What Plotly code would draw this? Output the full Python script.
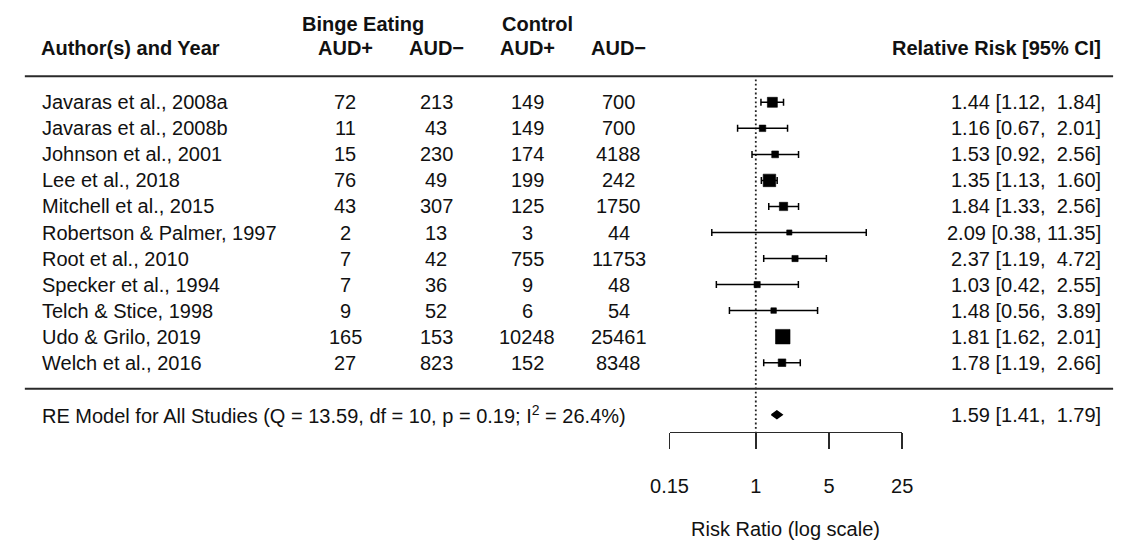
import math
import plotly.graph_objects as go

# ---------------- data ----------------
authors = [
    "Javaras et al., 2008a", "Javaras et al., 2008b", "Johnson et al., 2001",
    "Lee et al., 2018", "Mitchell et al., 2015", "Robertson & Palmer, 1997",
    "Root et al., 2010", "Specker et al., 1994", "Telch & Stice, 1998",
    "Udo & Grilo, 2019", "Welch et al., 2016",
]
be_pos = [72, 11, 15, 76, 43, 2, 7, 7, 9, 165, 27]
be_neg = [213, 43, 230, 49, 307, 13, 42, 36, 52, 153, 823]
ctl_pos = [149, 149, 174, 199, 125, 3, 755, 9, 6, 10248, 152]
ctl_neg = [700, 700, 4188, 242, 1750, 44, 11753, 48, 54, 25461, 8348]
rr = [1.44, 1.16, 1.53, 1.35, 1.84, 2.09, 2.37, 1.03, 1.48, 1.81, 1.78]
rr_lo = [1.12, 0.67, 0.92, 1.13, 1.33, 0.38, 1.19, 0.42, 0.56, 1.62, 1.19]
rr_hi = [1.84, 2.01, 2.56, 1.60, 2.56, 11.35, 4.72, 2.55, 3.89, 2.01, 2.66]
summary_rr, summary_lo, summary_hi = 1.59, 1.41, 1.79
summary_label = "RE Model for All Studies (Q = 13.59, df = 10, p = 0.19; I<sup>2</sup> = 26.4%)"
tick_vals = [0.15, 1, 5, 25]
tick_text = ["0.15", "1", "5", "25"]

# ---------------- style ----------------
square_px = [10, 6.5, 6.8, 12.5, 8.3, 5.2, 6.2, 6.2, 5.5, 14.5, 7.6]
W, H = 1128, 545
ROW0_PX, ROW_PX = 102.3, 26.04
FONT = "Liberation Sans, Arial, Helvetica, sans-serif"
INK = "#111111"
LINE = "#2a2a2a"

y_top = 1 - ROW0_PX / ROW_PX
y_bot = 1 + (H - ROW0_PX) / ROW_PX
n = len(authors)
rows = list(range(1, n + 1))
sum_row = n + 2
axis_row = sum_row + 0.65
hdr_row1 = -2.02
hdr_row2 = -1.1
title_row = 1 + (529 - ROW0_PX) / ROW_PX


def fx(px):
    return px / W


fig = go.Figure()

# dotted line of no effect
fig.add_trace(go.Scatter(
    x=[1, 1], y=[0.12, axis_row], mode="lines",
    line=dict(color="#222222", width=1.8, dash="1.8px,2.6px"),
    hoverinfo="skip", showlegend=False,
))

# study estimates with CIs
fig.add_trace(go.Scatter(
    x=rr, y=rows, mode="markers",
    marker=dict(symbol="square", size=square_px, color="black", opacity=1,
                line=dict(width=0.6, color="black")),
    error_x=dict(type="data", symmetric=False,
                 array=[h - e for h, e in zip(rr_hi, rr)],
                 arrayminus=[e - l for e, l in zip(rr, rr_lo)],
                 color="#000000", thickness=1.5, width=3.5),
    showlegend=False,
))

# summary diamond
dh = 0.15
fig.add_trace(go.Scatter(
    x=[summary_lo, summary_rr, summary_hi, summary_rr, summary_lo],
    y=[sum_row, sum_row - dh, sum_row, sum_row + dh, sum_row],
    mode="lines", fill="toself", fillcolor="black",
    line=dict(color="black", width=1.4), showlegend=False,
))

ann = []


def add_text(txt, xpx, row, anchor="left", bold=False, size=20):
    ann.append(dict(
        text=f"<b>{txt}</b>" if bold else txt,
        x=fx(xpx), xref="paper", y=row, yref="y",
        xanchor=anchor, yanchor="middle", showarrow=False,
        font=dict(family=FONT, size=size, color=INK),
    ))


col_x = [335, 428.5, 522, 616]

# headers
add_text("Binge Eating", 353, hdr_row1, "center", True)
add_text("Control", 533, hdr_row1, "center", True)
add_text("Author(s) and Year", 21, hdr_row2, "left", True)
for cx, lab in zip(col_x, ["AUD+", "AUD\u2212", "AUD+", "AUD\u2212"]):
    add_text(lab, cx, hdr_row2, "center", True)
add_text("Relative Risk [95% CI]", 1114, hdr_row2, "right", True)


def ci_text(e, l, h):
    s = f"{e:.2f} [{l:.2f}, {h:5.2f}]"
    return s.replace(" ", "\u00a0")


for i, r in enumerate(rows):
    add_text(authors[i], 22, r, "left")
    for cx, vals in zip(col_x, [be_pos, be_neg, ctl_pos, ctl_neg]):
        add_text(str(vals[i]), cx, r, "center")
    add_text(ci_text(rr[i], rr_lo[i], rr_hi[i]), 1114, r, "right")

add_text(summary_label, 22, sum_row, "left")
add_text(ci_text(summary_rr, summary_lo, summary_hi), 1114, sum_row, "right")
add_text("Risk Ratio (log scale)", 787.8, title_row, "center")

shapes = [
    dict(type="line", xref="paper", yref="y", x0=fx(6), x1=fx(1124), y0=0, y1=0,
         line=dict(color=LINE, width=2.2)),
    dict(type="line", xref="paper", yref="y", x0=fx(6), x1=fx(1124), y0=n + 1, y1=n + 1,
         line=dict(color=LINE, width=1.8)),
]

fig.update_layout(
    width=W, height=H,
    margin=dict(l=0, r=0, t=0, b=0),
    paper_bgcolor="white", plot_bgcolor="rgba(0,0,0,0)",
    showlegend=False,
    font=dict(family=FONT, size=20, color=INK),
    xaxis=dict(
        type="log",
        range=[math.log10(tick_vals[0]), math.log10(tick_vals[-1])],
        domain=[fx(668.3), fx(907.3)],
        anchor="free", position=1 - 431.7 / H,
        showline=True, linecolor=LINE, linewidth=1.6,
        ticks="outside", ticklen=16, tickwidth=1.6, tickcolor=LINE,
        tickvals=tick_vals, ticktext=tick_text,
        tickfont=dict(family=FONT, size=20, color=INK),
        ticklabelstandoff=20,
        showgrid=False, zeroline=False, fixedrange=True,
    ),
    yaxis=dict(range=[y_bot, y_top], domain=[0, 1], visible=False, fixedrange=True),
    annotations=ann,
    shapes=shapes,
)

fig.write_html(
    "out.html",
    config={"displayModeBar": False, "staticPlot": True},
    post_script="document.body.style.margin='0px';document.body.style.overflow='hidden';",
)
